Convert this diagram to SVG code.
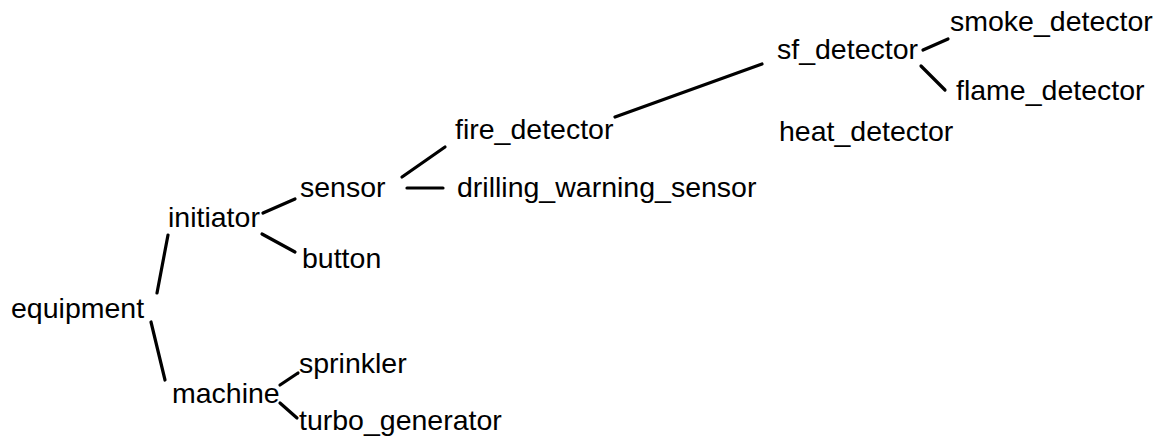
<svg xmlns="http://www.w3.org/2000/svg" width="1163" height="444" viewBox="0 0 1163 444">
<style>
.lbl{font-family:"Liberation Sans",Arial,Helvetica,sans-serif;font-size:28.5px;fill:#000}
.edge{stroke:#000;stroke-width:3.2;stroke-linecap:round;fill:none}
</style>
<rect width="1163" height="444" fill="#fff"/>
<g id="connectors">
<line class="edge" x1="157" y1="293" x2="168" y2="235"/>
<line class="edge" x1="151" y1="322" x2="165" y2="380"/>
<line class="edge" x1="263" y1="213" x2="295" y2="199"/>
<line class="edge" x1="262" y1="234" x2="295" y2="252"/>
<line class="edge" x1="402" y1="177" x2="445" y2="147"/>
<line class="edge" x1="407" y1="188" x2="443" y2="188"/>
<line class="edge" x1="615" y1="117" x2="762" y2="64"/>
<line class="edge" x1="923" y1="50" x2="948" y2="39"/>
<line class="edge" x1="921" y1="66" x2="945" y2="90"/>
<line class="edge" x1="280" y1="385" x2="298" y2="373"/>
<line class="edge" x1="280" y1="403" x2="297" y2="418"/>
</g>
<g id="equipment"><text class="lbl" x="11" y="318">equipment</text></g>
<g id="initiator"><text class="lbl" x="168" y="227">initiator</text></g>
<g id="sensor"><text class="lbl" x="300" y="197">sensor</text></g>
<g id="button"><text class="lbl" x="302" y="268">button</text></g>
<g id="fire_detector"><text class="lbl" x="455" y="139">fire_detector</text></g>
<g id="drilling_warning_sensor"><text class="lbl" x="457" y="197">drilling_warning_sensor</text></g>
<g id="sf_detector"><text class="lbl" x="777" y="59">sf_detector</text></g>
<g id="smoke_detector"><text class="lbl" x="950" y="31">smoke_detector</text></g>
<g id="flame_detector"><text class="lbl" x="956" y="100">flame_detector</text></g>
<g id="heat_detector"><text class="lbl" x="779" y="141">heat_detector</text></g>
<g id="machine"><text class="lbl" x="172" y="403">machine</text></g>
<g id="sprinkler"><text class="lbl" x="299" y="373">sprinkler</text></g>
<g id="turbo_generator"><text class="lbl" x="299" y="430">turbo_generator</text></g>
</svg>
